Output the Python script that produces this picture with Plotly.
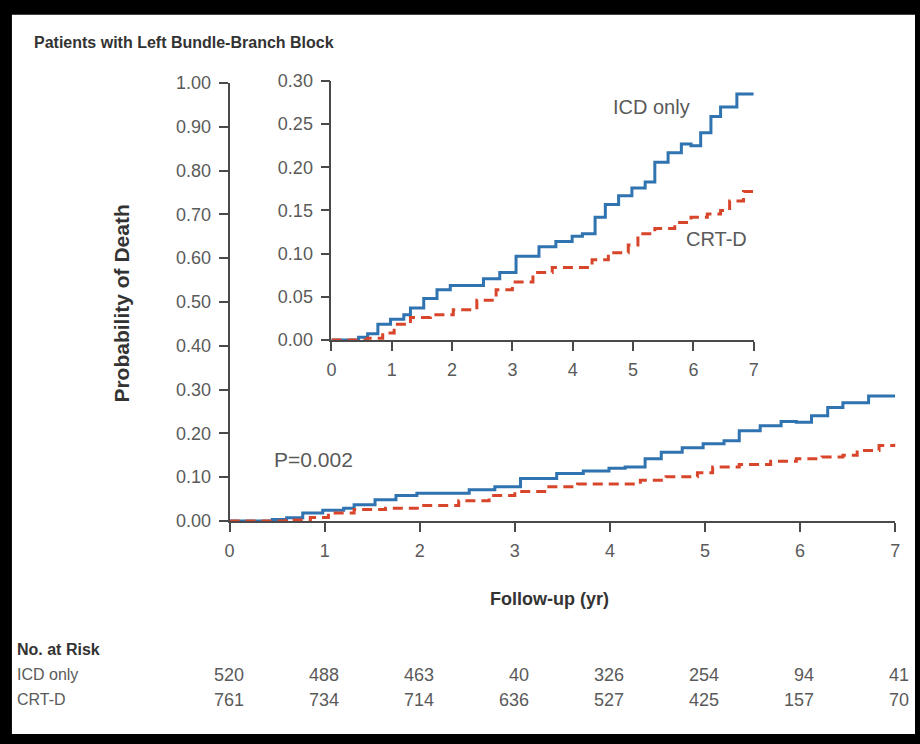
import plotly.graph_objects as go

# ---- data ----
icd_t = [0, 0.45, 0.6, 0.77, 0.98, 1.2, 1.31, 1.53, 1.75, 1.97, 2.24, 2.52, 2.79, 3.06, 3.23, 3.44,
         3.72, 3.99, 4.16, 4.37, 4.54, 4.76, 4.98, 5.2, 5.36, 5.58, 5.8, 5.96, 6.12, 6.29, 6.45,
         6.6, 6.72, 7.0]
icd_p = [0, 0.003, 0.007, 0.018, 0.024, 0.029, 0.037, 0.048, 0.058, 0.063, 0.063, 0.071, 0.078,
         0.097, 0.097, 0.108, 0.114, 0.120, 0.123, 0.142, 0.157, 0.167, 0.176, 0.183, 0.206, 0.217,
         0.227, 0.225, 0.240, 0.259, 0.270, 0.270, 0.285, 0.285]
crt_t = [0, 0.6, 0.85, 1.04, 1.31, 1.64, 2.02, 2.41, 2.73, 3.0, 3.34, 3.66, 3.99, 4.32, 4.59, 4.92,
         5.08, 5.36, 5.69, 5.96, 6.23, 6.45, 6.6, 6.83, 7.0]
crt_p = [0, 0.002, 0.008, 0.018, 0.026, 0.029, 0.035, 0.046, 0.058, 0.067, 0.078, 0.084, 0.084,
         0.093, 0.101, 0.110, 0.123, 0.129, 0.136, 0.142, 0.146, 0.150, 0.161, 0.172, 0.176]

years = [0, 1, 2, 3, 4, 5, 6, 7]
risk_icd = [520, 488, 463, 40, 326, 254, 94, 41]
risk_crt = [761, 734, 714, 636, 527, 425, 157, 70]

main_ticks = [0.0, 0.1, 0.2, 0.3, 0.4, 0.5, 0.6, 0.7, 0.8, 0.9, 1.0]
inset_ticks = [0.0, 0.05, 0.10, 0.15, 0.20, 0.25, 0.30]

W, H = 920, 744
def px(x):
    return x / W
def py(y):
    return 1 - y / H

FONT = "Liberation Sans, Arial, sans-serif"
BLUE = "#2f73b0"
RED = "#d8452b"
AX = "#4a4a4a"
TXT = "#5a5a5a"
DARK = "#333333"

fig = go.Figure()
for xa, ya in (("x", "y"), ("x2", "y2")):
    fig.add_trace(go.Scatter(x=icd_t, y=icd_p, xaxis=xa, yaxis=ya, mode="lines",
                             line=dict(color=BLUE, width=3, shape="hv"), showlegend=False))
    fig.add_trace(go.Scatter(x=crt_t, y=crt_p, xaxis=xa, yaxis=ya, mode="lines",
                             line=dict(color=RED, width=3, shape="hv", dash="10px,6px"),
                             showlegend=False))

axis_common = dict(showgrid=False, zeroline=False, showline=True, linecolor=AX, linewidth=1.8,
                   ticks="outside", tickcolor=AX, tickwidth=1.8, ticklen=9,
                   ticklabelstandoff=4,
                   tickfont=dict(family=FONT, size=18, color=TXT), fixedrange=True)

fig.update_layout(
    width=W, height=H,
    margin=dict(l=0, r=0, t=0, b=0),
    paper_bgcolor="black", plot_bgcolor="rgba(0,0,0,0)",
    xaxis=dict(domain=[px(227), px(900)], range=[0, 7], tickvals=years, anchor="y", **axis_common),
    yaxis=dict(domain=[py(525), py(75)], range=[0, 1], tickvals=main_ticks, tickformat=".2f",
               anchor="x", **axis_common),
    xaxis2=dict(domain=[px(330), px(757)], range=[0, 7], tickvals=years, anchor="y2", **axis_common),
    yaxis2=dict(domain=[py(339), py(73)], range=[0, 0.30], tickvals=inset_ticks, tickformat=".2f",
                anchor="x2", **axis_common),
    shapes=[dict(type="rect", xref="paper", yref="paper", x0=px(7), x1=1, y0=0, y1=py(5),
                 fillcolor="white", line=dict(width=0), layer="below")],
)

ann = []
ann.append(dict(text="<b>Patients with Left Bundle-Branch Block</b>", xref="paper", yref="paper",
                x=px(27), y=py(33), xanchor="left", yanchor="middle", showarrow=False,
                font=dict(family=FONT, size=16, color=DARK)))
ann.append(dict(text="<b>Probability of Death</b>", xref="paper", yref="paper", x=px(118),
                y=py(302), textangle=-90, showarrow=False, xanchor="center", yanchor="middle",
                font=dict(family=FONT, size=21, color=DARK)))
ann.append(dict(text="<b>Follow-up (yr)</b>", xref="paper", yref="paper", x=px(550), y=py(605),
                showarrow=False, xanchor="center", yanchor="middle",
                font=dict(family=FONT, size=18, color=DARK)))
ann.append(dict(text="P=0.002", xref="x", yref="y", x=0.88, y=0.14, showarrow=False,
                xanchor="center", yanchor="middle", font=dict(family=FONT, size=21, color=TXT)))
ann.append(dict(text="ICD only", xref="x2", yref="y2", x=5.3, y=0.27, showarrow=False,
                xanchor="center", yanchor="middle", font=dict(family=FONT, size=20, color=TXT)))
ann.append(dict(text="CRT-D", xref="x2", yref="y2", x=6.39, y=0.117, showarrow=False,
                xanchor="center", yanchor="middle", font=dict(family=FONT, size=20, color=TXT)))
ann.append(dict(text="<b>No. at Risk</b>", xref="paper", yref="paper", x=px(10), y=py(657),
                showarrow=False, xanchor="left", yanchor="middle",
                font=dict(family=FONT, size=16, color=DARK)))
for label, vals, yy in (("ICD only", risk_icd, 683), ("CRT-D", risk_crt, 709)):
    ann.append(dict(text=label, xref="paper", yref="paper", x=px(10), y=py(yy), showarrow=False,
                    xanchor="left", yanchor="middle", font=dict(family=FONT, size=16, color=TXT)))
    for yr, v in zip(years, vals):
        ann.append(dict(text=str(v), xref="x", yref="paper", x=yr, y=py(yy), xshift=16,
                        showarrow=False, xanchor="right", yanchor="middle",
                        font=dict(family=FONT, size=18, color=TXT)))
fig.update_layout(annotations=ann)

fig.write_html("out.html")
